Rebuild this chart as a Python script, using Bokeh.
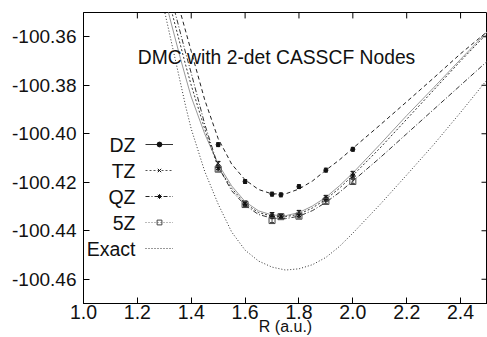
from bokeh.plotting import figure
from bokeh.models import (ColumnDataSource, Range1d, Legend, LegendItem,
                          Label, Whisker, TeeHead, FixedTicker, NumeralTickFormatter)
from bokeh.embed import file_html
from bokeh.resources import INLINE

# ---- data ----
R_pts = [1.5, 1.6, 1.7, 1.733, 1.8, 1.9, 2.0]
DZ_E = [-100.4045, -100.4197, -100.4249, -100.4252, -100.4218, -100.4150, -100.4064]
TZ_E = [-100.4122, -100.4285, -100.4333, -100.4340, -100.4324, -100.4262, -100.4163]
QZ_E = [-100.4140, -100.4290, -100.4340, -100.4340, -100.4335, -100.4270, -100.4175]
Z5_E = [-100.4146, -100.4292, -100.4358, -100.4342, -100.4340, -100.4279, -100.4197]
ERR = [0.0008, 0.0008, 0.0008, 0.0008, 0.0008, 0.0008, 0.0008]

R_fit = [1.30, 1.32, 1.34, 1.36, 1.38, 1.40, 1.45, 1.50, 1.55, 1.60, 1.65, 1.70,
         1.75, 1.80, 1.85, 1.90, 1.95, 2.00, 2.10, 2.20, 2.30, 2.40, 2.50]
DZ_fit = [-100.326, -100.334, -100.342, -100.350, -100.358, -100.366, -100.386, -100.402,
          -100.4125, -100.4190, -100.4230, -100.4248, -100.4248, -100.4228, -100.4195,
          -100.4150, -100.4108, -100.4060, -100.3965, -100.3868, -100.3770, -100.3670, -100.3578]
TZ_fit = [-100.343, -100.352, -100.3605, -100.369, -100.377, -100.3848, -100.400, -100.4125,
          -100.4215, -100.4280, -100.4318, -100.4335, -100.4338, -100.4325, -100.4298,
          -100.4262, -100.4215, -100.4162, -100.4045, -100.3925, -100.3810, -100.3693, -100.3578]
QZ_fit = [-100.338, -100.3465, -100.355, -100.3635, -100.372, -100.380, -100.398, -100.4138,
          -100.4225, -100.4288, -100.4325, -100.4340, -100.4342, -100.4332, -100.4306,
          -100.4270, -100.4225, -100.4172, -100.4060, -100.3940, -100.3820, -100.3700, -100.3585]
Z5_fit = [-100.333, -100.3415, -100.350, -100.3585, -100.367, -100.375, -100.396, -100.4135,
          -100.4235, -100.4295, -100.4333, -100.4348, -100.4350, -100.4340, -100.4317,
          -100.4283, -100.4242, -100.4195, -100.4100, -100.4000, -100.3900, -100.3800, -100.3700]
EX_fit = [-100.349, -100.359, -100.369, -100.379, -100.389, -100.398, -100.4155, -100.4290,
          -100.4405, -100.4480, -100.4525, -100.4550, -100.4562, -100.4557, -100.4540,
          -100.4510, -100.4465, -100.4410, -100.4293, -100.4170, -100.4045, -100.3912, -100.3775]

x_ticks = [1.0, 1.2, 1.4, 1.6, 1.8, 2.0, 2.2, 2.4]
y_ticks = [-100.46, -100.44, -100.42, -100.40, -100.38, -100.36]
labels = ["DZ", "TZ", "QZ", "5Z", "Exact"]
title_text = "DMC with 2-det CASSCF Nodes"
xlabel_text = "R (a.u.)"

FONT = "Liberation Sans"
X0, X1 = 1.0, 2.5
Y0, Y1 = -100.47, -100.35
W, H = 487, 337
ML, MT, MB, MR = 83, 12, 31, 0
FW, FH = W - ML - MR, H - MT - MB
TICK = 6

p = figure(width=W, height=H, output_backend="svg", toolbar_location=None,
           x_range=Range1d(X0, X1), y_range=Range1d(Y0, Y1),
           min_border_left=ML, min_border_top=MT, min_border_bottom=MB, min_border_right=MR)
p.background_fill_color = "white"
p.border_fill_color = "white"
p.outline_line_color = "black"
p.outline_line_width = 1
p.xgrid.visible = False
p.ygrid.visible = False

for ax in (p.xaxis[0], p.yaxis[0]):
    ax.major_tick_in = TICK
    ax.major_tick_out = 0
    ax.minor_tick_line_color = None
    ax.axis_line_color = "black"
    ax.major_tick_line_color = "black"
    ax.major_label_text_font = FONT
    ax.major_label_text_color = "#111111"

xa = p.xaxis[0]
xa.ticker = FixedTicker(ticks=x_ticks)
xa.formatter = NumeralTickFormatter(format="0.0")
xa.major_label_text_font_size = "19.5px"
xa.major_label_standoff = 1
xa.axis_label = xlabel_text
xa.axis_label_text_font = FONT
xa.axis_label_text_font_style = "normal"
xa.axis_label_text_font_size = "16px"
xa.axis_label_text_color = "#111111"
xa.axis_label_text_line_height = 0.5
xa.axis_label_standoff = -4

ya = p.yaxis[0]
ya.ticker = FixedTicker(ticks=y_ticks)
ya.formatter = NumeralTickFormatter(format="0.00")
ya.major_label_text_font_size = "19px"
ya.major_label_standoff = 7

# inward ticks on the top and right frame edges (derived from tick lists)
dy = TICK * (Y1 - Y0) / FH
dx = TICK * (X1 - X0) / FW
p.segment(x0=x_ticks, y0=[Y1] * len(x_ticks), x1=x_ticks, y1=[Y1 - dy] * len(x_ticks),
          line_color="black", line_width=1)
p.segment(x0=[X1] * len(y_ticks), y0=y_ticks, x1=[X1 - dx] * len(y_ticks), y1=y_ticks,
          line_color="black", line_width=1)

# fitted curves
r_dz = p.line(R_fit, DZ_fit, line_color="#222222", line_width=1, line_dash="4 3")
r_tz = p.line(R_fit, TZ_fit, line_color="#999999", line_width=1)
r_qz = p.line(R_fit, QZ_fit, line_color="#333333", line_width=1, line_dash="2 2")
r_5z = p.line(R_fit, Z5_fit, line_color="#333333", line_width=1, line_dash="5 2 1 2")
r_ex = p.line(R_fit, EX_fit, line_color="#333333", line_width=1, line_dash="1 2")

# points with error bars
def pts(E, marker, color, fill, size):
    lower = [e - d for e, d in zip(E, ERR)]
    upper = [e + d for e, d in zip(E, ERR)]
    src = ColumnDataSource(dict(x=R_pts, y=E, lo=lower, hi=upper))
    w = Whisker(base="x", lower="lo", upper="hi", source=src, line_color=color, line_width=1,
                upper_head=TeeHead(size=4, line_color=color), lower_head=TeeHead(size=4, line_color=color))
    p.add_layout(w)
    return p.scatter("x", "y", source=src, marker=marker, size=size, line_color=color,
                     fill_color=fill, line_width=1)

s_dz = pts(DZ_E, "circle", "#111111", "#111111", 4)
s_tz = pts(TZ_E, "x", "#111111", None, 6)
s_qz = pts(QZ_E, "asterisk", "#111111", None, 6)
s_5z = pts(Z5_E, "square", "#444444", None, 6)

# legend sample line styles (no visible data of their own)
nan = [float("nan")] * len(R_pts)
e_dz = p.line(R_pts, nan, line_color="#333333", line_width=1)
e_tz = p.line(R_pts, nan, line_color="#555555", line_width=1, line_dash="2 2")
e_qz = p.line(R_pts, nan, line_color="#222222", line_width=1, line_dash="4 2 1 2")
e_5z = p.line(R_pts, nan, line_color="#777777", line_width=1, line_dash="1 2")

items = [LegendItem(label=" ", renderers=[e_dz, s_dz]),
         LegendItem(label=" ", renderers=[e_tz, s_tz]),
         LegendItem(label=" ", renderers=[e_qz, s_qz]),
         LegendItem(label=" ", renderers=[e_5z, s_5z]),
         LegendItem(label=" ", renderers=[r_ex])]
leg = Legend(items=items, location=(62, 49), glyph_width=28, glyph_height=12, spacing=14,
             padding=0, margin=0, label_standoff=0, label_width=0, label_height=0,
             label_text_font_size="1px", border_line_color=None, background_fill_alpha=0)
p.add_layout(leg)

for i, lab in enumerate(labels):
    p.add_layout(Label(x=52, y=159 - 26 * i, x_units="screen", y_units="screen", text=lab,
                       text_font=FONT, text_font_size="19.5px", text_align="right",
                       text_baseline="middle", text_color="#111111"))

p.add_layout(Label(x=193, y=246, x_units="screen", y_units="screen", text=title_text,
                   text_font=FONT, text_font_size="19.3px", text_align="center",
                   text_baseline="middle", text_color="#111111"))

open("out.html", "w").write(file_html(p, INLINE))
